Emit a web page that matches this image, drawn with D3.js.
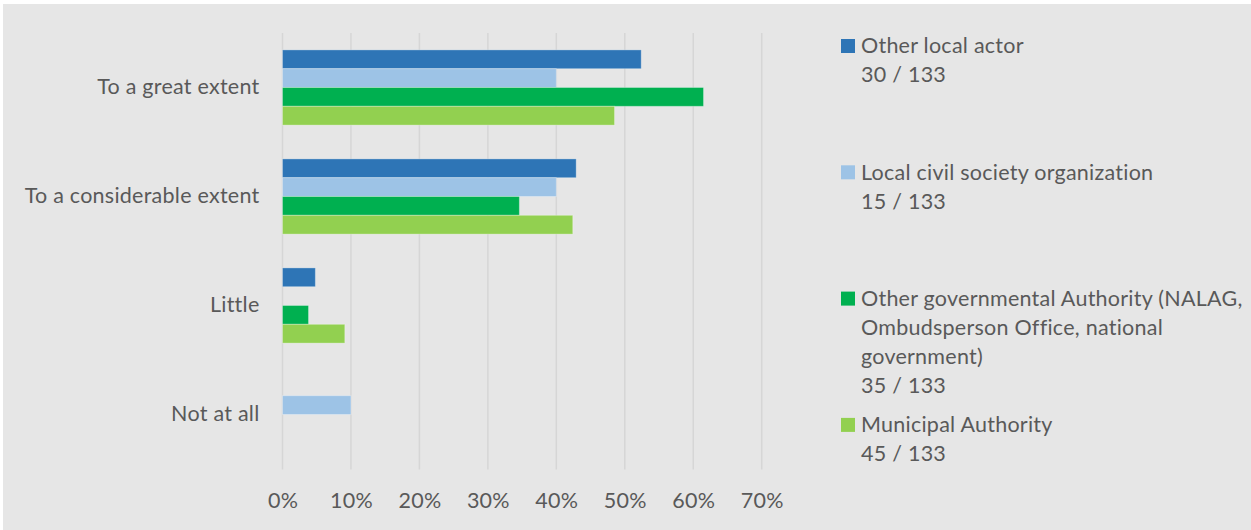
<!DOCTYPE html>
<html>
<head>
<meta charset="utf-8">
<script src="https://cdn.jsdelivr.net/npm/d3@7"></script>
<style>
  html, body { margin: 0; padding: 0; background: #ffffff; }
  svg { display: block; }
  text { font-family: Lato, "Liberation Sans", sans-serif; fill: #595959; letter-spacing: 0.25px; }
</style>
</head>
<body>
<svg id="chart" width="1251" height="530"></svg>
<script>
// Response categories (top to bottom)
const categories = ["To a great extent", "To a considerable extent", "Little", "Not at all"];

// Respondent groups, shown in the legend
const seriesNames = [
  ["Other local actor"],
  ["Local civil society organization"],
  ["Other governmental Authority (NALAG,", "Ombudsperson Office, national", "government)"],
  ["Municipal Authority"]
];
const seriesCounts = ["30 / 133", "15 / 133", "35 / 133", "45 / 133"];
const seriesColors = ["#2E75B6", "#9DC3E6", "#00B050", "#92D050"];

// Share of each group per category
const otherLocalActor   = [0.524, 0.429, 0.048, 0.0];
const localCSO          = [0.400, 0.400, 0.0,   0.100];
const otherGovernmental = [0.615, 0.346, 0.038, 0.0];
const municipal         = [0.485, 0.424, 0.091, 0.0];
const seriesValues = [otherLocalActor, localCSO, otherGovernmental, municipal];

const xTicks = [0, 0.1, 0.2, 0.3, 0.4, 0.5, 0.6, 0.7];

const FONT_SIZE = "21.5px";
const svg = d3.select("#chart");
const W = 1251, H = 530;

// panel background
svg.append("rect").attr("x", 3).attr("y", 4).attr("width", W - 3).attr("height", H - 4)
  .attr("fill", "#e6e6e6");

const x = d3.scaleLinear().domain([0, 0.7]).range([282.5, 761.7]);
const y = d3.scaleBand().domain(categories).range([33, 469])
  .paddingInner(0.31).paddingOuter(0.155);
const ySub = d3.scaleBand().domain(d3.range(seriesValues.length)).range([0, y.bandwidth()]);

// vertical gridlines
svg.append("g").selectAll("line").data(xTicks).join("line")
  .attr("x1", d => x(d)).attr("x2", d => x(d))
  .attr("y1", 33).attr("y2", 469.5)
  .attr("stroke", "#d6d6d6").attr("stroke-width", 1.5);

// x axis labels
const xAxis = d3.axisBottom(x).tickValues(xTicks).tickFormat(d3.format(".0%")).tickSize(0).tickPadding(0);
const gx = svg.append("g").attr("transform", "translate(0,469)").call(xAxis);
gx.select(".domain").remove();
gx.selectAll("text").attr("dy", null).attr("y", 38.5)
  .style("font-size", FONT_SIZE).style("font-family", "Lato, 'Liberation Sans', sans-serif").attr("fill", "#595959");

// category labels
const yAxis = d3.axisLeft(y).tickSize(0).tickPadding(0);
const gy = svg.append("g").attr("transform", "translate(259.5,0)").call(yAxis);
gy.select(".domain").remove();
gy.selectAll("text").attr("dy", "0.32em")
  .style("font-size", FONT_SIZE).style("font-family", "Lato, 'Liberation Sans', sans-serif").attr("fill", "#595959");

// bars
const rows = [];
seriesValues.forEach((vals, s) => vals.forEach((v, c) => rows.push({ s, c, v })));
svg.append("g").selectAll("rect").data(rows.filter(d => d.v > 0)).join("rect")
  .attr("x", x(0))
  .attr("y", d => y(categories[d.c]) + ySub(d.s))
  .attr("width", d => x(d.v) - x(0))
  .attr("height", ySub.bandwidth())
  .attr("fill", d => seriesColors[d.s])
  .attr("stroke", "#ffffff").attr("stroke-opacity", 0.3).attr("stroke-width", 1);

// legend
const legendTop = 53.3, legendStep = 126.3, lineH = 29;
const lg = svg.append("g");
seriesNames.forEach((lines, i) => {
  const by = legendTop + i * legendStep;
  lg.append("rect").attr("x", 841).attr("y", by - 14.3).attr("width", 14).attr("height", 14)
    .attr("fill", seriesColors[i]);
  const t = lg.append("text").attr("x", 861).attr("y", by).style("font-size", FONT_SIZE);
  lines.concat([seriesCounts[i]]).forEach((ln, k) => {
    t.append("tspan").attr("x", 861).attr("y", by + k * lineH).text(ln);
  });
});
</script>
</body>
</html>
